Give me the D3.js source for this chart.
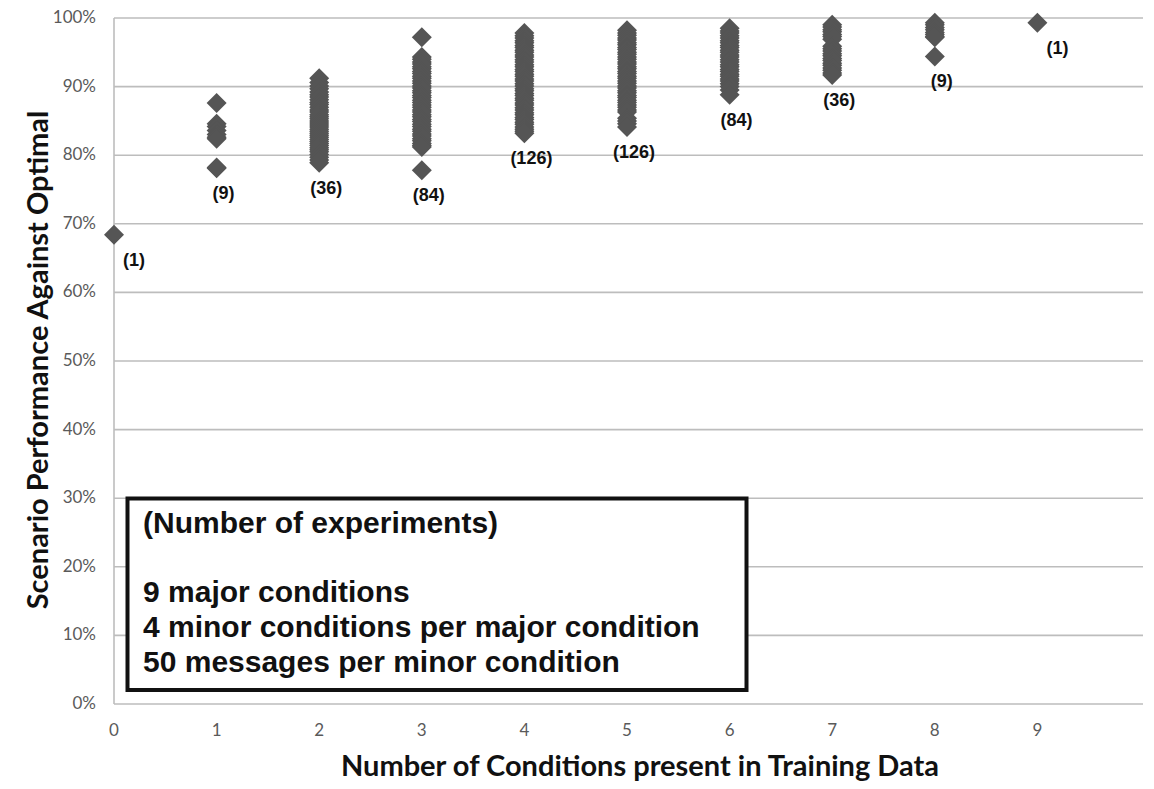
<!DOCTYPE html>
<html>
<head>
<meta charset="utf-8">
<script src="https://cdn.jsdelivr.net/npm/d3@7/dist/d3.min.js"></script>
<style>
  body { margin: 0; background: #fff; }
</style>
</head>
<body>
<div id="chart"></div>
<script>
// categories: number of conditions present in training data
var cats = [0, 1, 2, 3, 4, 5, 6, 7, 8, 9];
// number of experiments per category (shown under each column)
var counts = [1, 9, 36, 84, 126, 126, 84, 36, 9, 1];

// performance values (%), visible points per column
var v0 = [68.4];
var v1 = [87.6, 84.6, 84.2, 83.6, 83.0, 82.6, 82.4, 78.2, 78.1];
var v2 = [91.2, 90.6, 90.1, 89.7, 89.2, 88.8, 88.5, 88.1, 87.7, 87.4, 87.0, 86.6,
          86.3, 85.9, 85.6, 85.3, 85.0, 84.7, 84.4, 84.1, 83.8, 83.5, 83.2, 82.9,
          82.6, 82.3, 82.0, 81.7, 81.4, 81.1, 80.8, 80.5, 80.1, 79.7, 79.3, 78.9];
var v3 = [97.2, 94.3, 94.0, 93.6, 93.3, 92.9, 92.6, 92.2, 91.9, 91.5, 91.2, 90.8,
          90.5, 90.1, 89.8, 89.4, 89.1, 88.7, 88.4, 88.0, 87.7, 87.3, 87.0, 86.6,
          86.3, 85.9, 85.6, 85.2, 84.9, 84.5, 84.2, 83.8, 83.5, 83.1, 82.8, 82.4,
          82.1, 81.7, 81.4, 81.2, 77.8];
var v4 = [97.8, 97.4, 97.1, 96.7, 96.4, 96.0, 95.7, 95.3, 95.0, 94.6, 94.3, 93.9,
          93.6, 93.2, 92.9, 92.5, 92.2, 91.8, 91.5, 91.1, 90.8, 90.4, 90.1, 89.7,
          89.4, 89.0, 88.7, 88.3, 88.0, 87.6, 87.3, 86.9, 86.6, 86.2, 85.9, 85.5,
          85.2, 84.8, 84.5, 84.1, 83.8, 83.5, 83.2];
var v5 = [98.2, 97.8, 97.5, 97.1, 96.8, 96.4, 96.1, 95.7, 95.4, 95.0, 94.7, 94.3,
          94.0, 93.6, 93.3, 92.9, 92.6, 92.2, 91.9, 91.5, 91.2, 90.8, 90.5, 90.1,
          89.8, 89.4, 89.1, 88.7, 88.4, 88.0, 87.7, 87.3, 87.0, 86.6, 86.3, 85.4,
          85.0, 84.6, 84.1];
var v6 = [98.5, 98.1, 97.8, 97.4, 97.1, 96.7, 96.4, 96.0, 95.7, 95.3, 95.0, 94.6,
          94.3, 93.9, 93.6, 93.2, 92.9, 92.5, 92.2, 91.8, 91.5, 91.1, 90.8, 90.4,
          90.0, 89.5, 88.8];
var v7 = [99.0, 98.7, 98.3, 98.0, 97.6, 97.3, 96.9, 95.9, 95.5, 95.2, 94.8, 94.5,
          94.1, 93.8, 93.4, 93.1, 92.7, 92.4, 92.0, 91.7];
var v8 = [99.3, 99.0, 98.6, 98.3, 97.9, 97.6, 97.3, 97.2, 94.4];
var v9 = [99.3];
var series = [v0, v1, v2, v3, v4, v5, v6, v7, v8, v9];

var yTicks = [0, 10, 20, 30, 40, 50, 60, 70, 80, 90, 100];
var boxLines = ["(Number of experiments)", "9 major conditions",
                "4 minor conditions per major condition", "50 messages per minor condition"];

var W = 1154, H = 789;
var svg = d3.select('#chart').append('svg').attr('width', W).attr('height', H);

var x = d3.scaleLinear().domain([0, 10]).range([114, 1140]);
var y = d3.scaleLinear().domain([0, 100]).range([704, 18]);

var labelFont = 'Lato, "Open Sans", sans-serif';
var boldFont = '"Liberation Sans", Arial, sans-serif';

// gridlines
svg.append('g').selectAll('line').data(yTicks).enter().append('line')
    .attr('x1', x(0)).attr('x2', 1143)
    .attr('y1', function (d) { return y(d) }).attr('y2', function (d) { return y(d) })
    .attr('stroke', '#bdbdbd').attr('stroke-width', 1.6);
svg.append('line')
    .attr('x1', x(0)).attr('x2', x(0)).attr('y1', y(0)).attr('y2', y(100))
    .attr('stroke', '#bdbdbd').attr('stroke-width', 1.6);

// y tick labels
svg.append('g').selectAll('text').data(yTicks).enter().append('text')
    .attr('x', 96).attr('y', function (d) { return y(d) + 5 })
    .attr('text-anchor', 'end').style('font-family', labelFont).style('font-size', '17px')
    .attr('fill', '#5a5a5a')
    .text(function (d) { return d + '%' });

// x tick labels
svg.append('g').selectAll('text').data(cats).enter().append('text')
    .attr('x', function (d) { return x(d) }).attr('y', 736)
    .attr('text-anchor', 'middle').style('font-family', labelFont).style('font-size', '17px')
    .attr('fill', '#5a5a5a')
    .text(function (d) { return d });

// axis titles
svg.append('text').attr('x', 640).attr('y', 776).attr('text-anchor', 'middle')
    .style('font-family', labelFont).style('font-size', '29px').style('font-weight', 'bold')
    .attr('fill', '#111')
    .text('Number of Conditions present in Training Data');
svg.append('text').attr('transform', 'translate(48,360) rotate(-90)')
    .attr('text-anchor', 'middle')
    .style('font-family', labelFont).style('font-size', '29px').style('font-weight', 'bold')
    .attr('fill', '#111')
    .text('Scenario Performance Against Optimal');

// points
var pts = [];
series.forEach(function (vals, i) {
    vals.forEach(function (v) { pts.push({ c: cats[i], v: v }) });
});
var diamond = d3.symbol().type(d3.symbolSquare).size(200);
svg.append('g').selectAll('path').data(pts).enter().append('path')
    .attr('d', diamond)
    .attr('transform', function (d) { return 'translate(' + x(d.c) + ',' + y(d.v) + ') rotate(45)' })
    .attr('fill', '#555');

// count labels under each column
svg.append('g').selectAll('text').data(cats).enter().append('text')
    .attr('x', function (d, i) { return x(d) + (counts[i] == 1 ? 20 : 7) })
    .attr('y', function (d, i) { return y(d3.min(series[i])) + 31 })
    .attr('text-anchor', 'middle')
    .style('font-family', boldFont).style('font-size', '18px').style('font-weight', 'bold')
    .attr('fill', '#111')
    .text(function (d, i) { return '(' + counts[i] + ')' });

// note box
svg.append('rect').attr('x', 127.5).attr('y', 498.5).attr('width', 619).attr('height', 191.5)
    .attr('fill', '#fff').attr('stroke', '#111').attr('stroke-width', 4);
var lineY = [533, 602, 637, 672];
svg.append('g').selectAll('text').data(boxLines).enter().append('text')
    .attr('x', 143).attr('y', function (d, i) { return lineY[i] })
    .style('font-family', boldFont).style('font-size', '30px').style('font-weight', 'bold')
    .attr('fill', '#111')
    .text(function (d) { return d });
</script>
</body>
</html>
